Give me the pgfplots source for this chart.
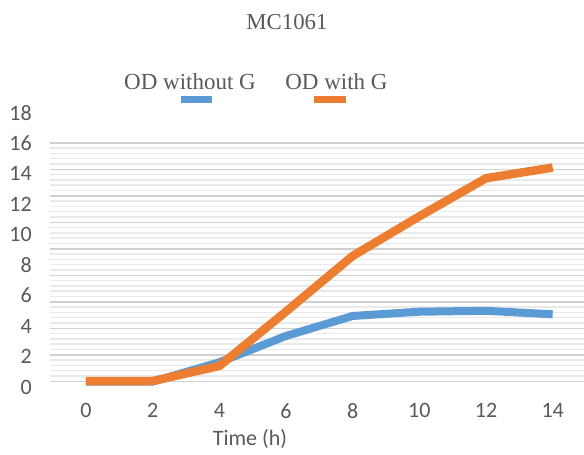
\documentclass[border=0pt]{standalone}
\usepackage{fontspec}
\setmainfont{Liberation Serif}
\setsansfont{Carlito}
\usepackage{pgfplots}
\pgfplotsset{compat=1.18}
\definecolor{cblue}{HTML}{5B9BD5}
\definecolor{corange}{HTML}{ED7D31}
\definecolor{txt}{HTML}{595959}
\definecolor{gmaj}{HTML}{D0D0D0}
\definecolor{gmin}{HTML}{EAEAEA}
\begin{document}
\begin{tikzpicture}[x=1pt,y=1pt]
\useasboundingbox (0,0) rectangle (584,455);
\begin{axis}[
  at={(50pt,68pt)}, anchor=south west,
  scale only axis, width=536pt, height=274.3pt,
  xmin=-1.08, xmax=15, ymin=0, ymax=18,
  axis line style={draw=none},
  major tick length=0pt, minor tick length=0pt,
  tick style={draw=none},
  xtick={0,2,...,14}, ytick={0,2,...,18},
  /pgf/number format/assume math mode=true,
  ticklabel style={font=\sffamily\fontsize{22}{26}\selectfont, text=txt, inner sep=0pt},
  yticklabel style={anchor=east, xshift=-18pt},
  xticklabel style={anchor=north, yshift=-16pt},
  ymajorgrids=false, xmajorgrids=false,
  extra y ticks={0.374,2.113,3.852,5.591,7.330,9.069,10.808,12.547,14.286,16.025},
  extra y tick labels={},
  extra y tick style={grid=major, major grid style={color=gmaj, line width=1.5pt}},
  minor ytick={0.722,1.070,1.417,1.765,2.461,2.808,3.156,3.504,4.200,4.547,4.895,5.243,5.939,6.286,6.634,6.982,7.678,8.025,8.373,8.721,9.417,9.764,10.112,10.460,11.156,11.503,11.851,12.199,12.895,13.242,13.590,13.938,14.634,14.981,15.329,15.677},
  yminorgrids=true,
  minor grid style={color=gmin, line width=1.5pt},
  xlabel={Time (h)},
  xlabel style={at={(axis description cs:0.373,-0.215)}, anchor=base, font=\sffamily\fontsize{22}{26}\selectfont, text=txt, inner sep=0pt},
  clip=false,
]
\addplot[cblue, line width=8pt, line join=round] coordinates {(0,0.35) (2,0.35) (4,1.62) (6,3.35) (8,4.66) (10,4.94) (12,5.0) (14,4.77)};
\addplot[corange, line width=8.5pt, line join=round] coordinates {(0,0.39) (2,0.39) (4,1.38) (6,4.95) (8,8.6) (10,11.2) (12,13.7) (14,14.4)};
\end{axis}
\node[anchor=base, text=txt, font=\fontsize{22.8}{27}\selectfont, inner sep=0pt] at (287,425) {MC1061};
\node[anchor=base, text=txt, font=\fontsize{23}{27}\selectfont, inner sep=0pt] at (190,365) {OD without G};
\node[anchor=base, text=txt, font=\fontsize{23}{27}\selectfont, inner sep=0pt] at (336.5,365) {OD with G};
\draw[cblue, line width=7pt] (181,355.5) -- (212,355.5);
\draw[corange, line width=7pt] (314,355.5) -- (346,355.5);
\end{tikzpicture}
\end{document}
